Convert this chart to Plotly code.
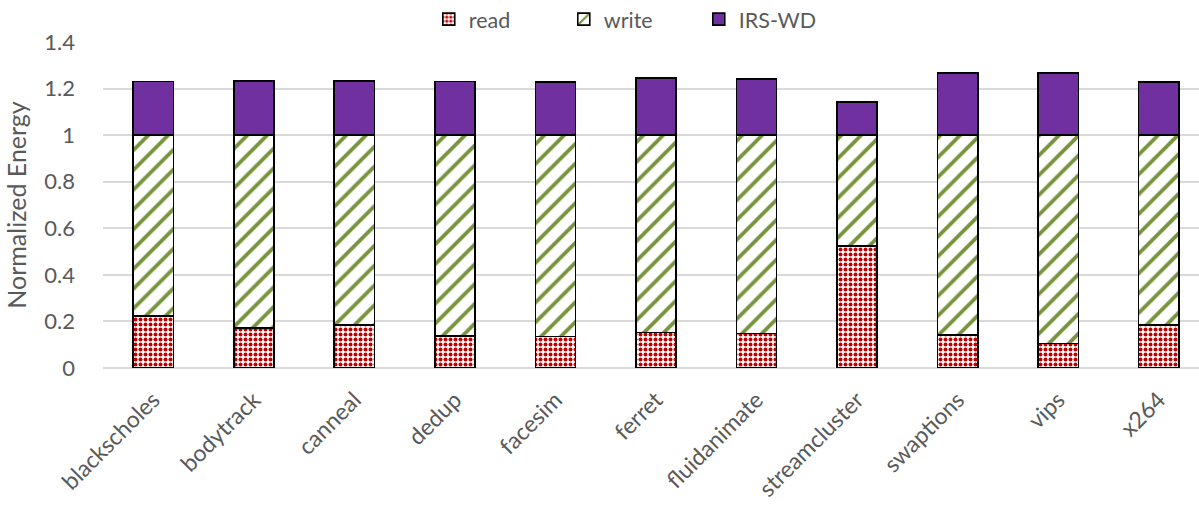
import plotly.graph_objects as go

# Benchmarks (PARSEC) and normalized energy breakdown per benchmark
benchmarks = ["blackscholes", "bodytrack", "canneal", "dedup", "facesim", "ferret",
              "fluidanimate", "streamcluster", "swaptions", "vips", "x264"]
read_energy = [0.223, 0.173, 0.185, 0.137, 0.136, 0.153, 0.148, 0.525, 0.143, 0.105, 0.185]
write_energy = [0.777, 0.827, 0.815, 0.863, 0.864, 0.847, 0.852, 0.475, 0.857, 0.895, 0.815]
irs_wd_energy = [0.231, 0.233, 0.232, 0.230, 0.227, 0.245, 0.240, 0.142, 0.266, 0.266, 0.228]

y_ticks = [0, 0.2, 0.4, 0.6, 0.8, 1, 1.2, 1.4]
y_tick_text = ["0", "0.2", "0.4", "0.6", "0.8", "1", "1.2", "1.4"]

FONT = "Lato, 'Open Sans', sans-serif"
GRAY = "#595959"
OUTLINE = dict(color="black", width=1.6)

fig = go.Figure()
fig.add_trace(go.Bar(
    name="read", x=benchmarks, y=read_energy, width=0.4,
    marker=dict(color="white", line=OUTLINE,
                pattern=dict(shape=".", fgcolor="#C00000", bgcolor="white",
                             size=5, solidity=0.5, fillmode="replace")),
))
fig.add_trace(go.Bar(
    name="write", x=benchmarks, y=write_energy, width=0.4,
    marker=dict(color="white", line=OUTLINE,
                pattern=dict(shape="/", fgcolor="#77933C", bgcolor="white",
                             size=14, solidity=0.27, fillmode="replace")),
))
fig.add_trace(go.Bar(
    name="IRS-WD", x=benchmarks, y=irs_wd_energy, width=0.4,
    marker=dict(color="#7030A0", line=OUTLINE),
))

fig.update_layout(
    barmode="stack",
    width=1199, height=505,
    margin=dict(l=103, r=0, t=42, b=137, autoexpand=False),
    paper_bgcolor="white", plot_bgcolor="white",
    font=dict(family=FONT, color=GRAY, size=21),
    showlegend=True,
    legend=dict(orientation="h", x=0.482, xanchor="center", y=1.07, yanchor="middle",
                font=dict(size=21.5, color=GRAY), itemwidth=30,
                entrywidth=90, entrywidthmode="pixels",
                traceorder="normal", bgcolor="rgba(0,0,0,0)"),
    xaxis=dict(range=[-0.5, 10.4], tickangle=-45, showgrid=False, showline=False,
               ticks="", tickfont=dict(size=23, color=GRAY), zeroline=False,
               ticklabelstandoff=13, automargin=False),
    yaxis=dict(range=[0, 1.4], tickvals=y_ticks, ticktext=y_tick_text,
               showgrid=True, gridcolor="#D9D9D9", gridwidth=1.5,
               zeroline=True, zerolinecolor="#D9D9D9", zerolinewidth=1.5,
               showline=False, ticks="", ticklabelstandoff=27, automargin=False,
               tickfont=dict(size=22, color=GRAY),
               title=dict(text="Normalized Energy", font=dict(size=25, color=GRAY), standoff=10)),
)

fig.write_html("out.html")
